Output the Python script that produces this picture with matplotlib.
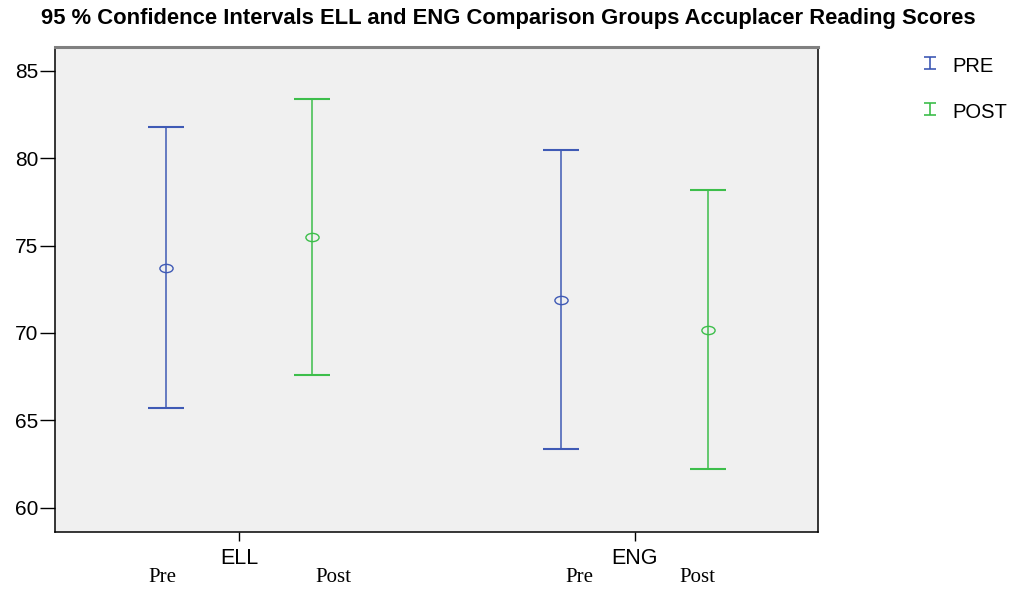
import numpy as np
import matplotlib
matplotlib.use("Agg")
import matplotlib.pyplot as plt
from matplotlib.path import Path
from matplotlib.transforms import Affine2D
from matplotlib.lines import Line2D

plt.rcParams['font.family'] = ['Liberation Sans', 'DejaVu Sans']

groups = ['ELL', 'ENG']
phases = ['Pre', 'Post']
series = ['PRE', 'POST']
pre_mean = [73.74, 71.87]
pre_low = [65.72, 63.34]
pre_high = [81.75, 80.44]
post_mean = [75.48, 70.17]
post_low = [67.58, 62.20]
post_high = [83.38, 78.19]
yticks = [60, 65, 70, 75, 80, 85]

blue = '#3F5AB5'
green = '#3DBE4B'

# open ellipse marker for the means
ell = Path.unit_circle().transformed(Affine2D().scale(1.6, 1.0))
# small I-beam used in the legend
ibeam = Path([(-0.5, 0.5), (0.5, 0.5), (0, 0.5), (0, -0.5), (-0.5, -0.5), (0.5, -0.5)],
             [Path.MOVETO, Path.LINETO, Path.MOVETO, Path.LINETO, Path.MOVETO, Path.LINETO])

fig = plt.figure(figsize=(10.16, 5.9), dpi=100)
ax = fig.add_axes([0.0541, 0.0988, 0.7513, 0.822])
ax.set_facecolor('#F0F0F0')

x = np.arange(1, len(groups) + 1)
off = 0.185

def draw(xs, mean, low, high, col):
    mean = np.array(mean)
    yerr = [mean - np.array(low), np.array(high) - mean]
    ax.errorbar(xs, mean, yerr=yerr, fmt='none', ecolor=col, elinewidth=1.1,
                capsize=13.3, capthick=1.5)
    ax.plot(xs, mean, linestyle='none', marker=ell, markersize=9.5,
            markerfacecolor='none', markeredgecolor=col, markeredgewidth=1.0)

draw(x - off, pre_mean, pre_low, pre_high, blue)
draw(x + off, post_mean, post_low, post_high, green)

ax.set_xlim(0.5334, 2.465)
ax.set_ylim(58.63, 86.37)
ax.set_yticks(yticks)
ax.set_xticks(x)
ax.set_xticklabels(groups)
ax.tick_params(axis='y', length=11, width=1, direction='out', labelsize=15, pad=1)
ax.tick_params(axis='x', length=6.5, width=1, direction='out', labelsize=15.5, pad=5)

for s in ['left', 'bottom', 'right']:
    ax.spines[s].set_color('black')
    ax.spines[s].set_linewidth(1.1)
ax.spines['top'].set_color('#808080')
ax.spines['top'].set_linewidth(2.2)

# hand-placed Pre/Post captions under the axis (as in the original)
cap_x = [162, 333, 579, 697]
for i, cx in enumerate(cap_x):
    fig.text(cx / 1016, 1 - 578 / 590, phases[i % 2], ha='center', va='center',
             fontsize=15, family='Liberation Serif')

fig.text(0.5, 0.969, '95 % Confidence Intervals ELL and ENG Comparison Groups Accuplacer Reading Scores',
         ha='center', va='center', fontsize=15.8, fontweight='bold')

for i, (lab, col) in enumerate(zip(series, [blue, green])):
    yy = 1 - (63 + 46 * i) / 590
    fig.add_artist(Line2D([930 / 1016], [yy], transform=fig.transFigure, marker=ibeam,
                          markersize=8.6, markeredgecolor=col, markeredgewidth=1.2,
                          linestyle='none'))
    fig.text(952 / 1016, yy - 4 / 590, lab, ha='left', va='center', fontsize=14.5)

fig.savefig('out.png', dpi=100)
